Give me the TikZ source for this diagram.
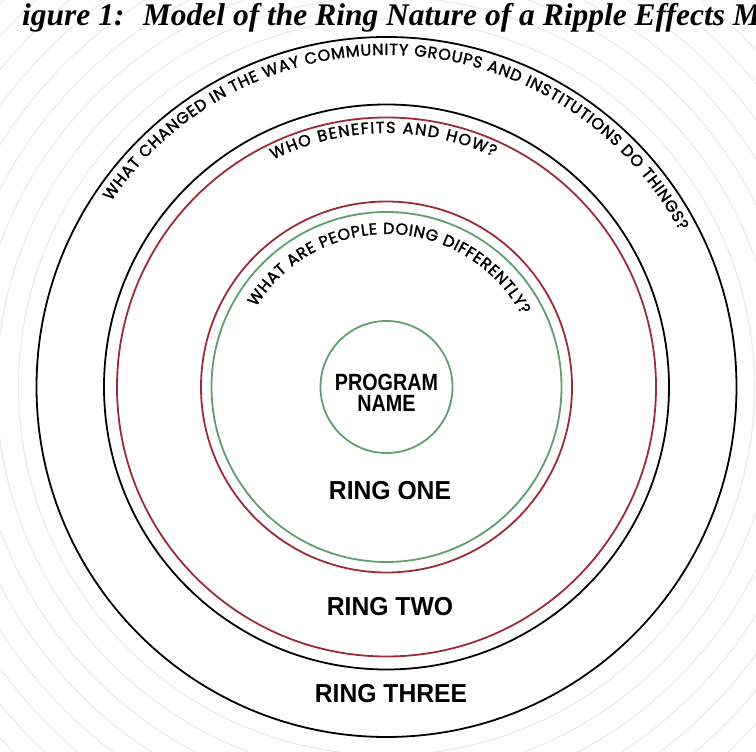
\documentclass[tikz,border=0pt]{standalone}
\usepackage{fontspec}
\usetikzlibrary{decorations.text}
\newfontfamily\ringfont{Poppins}[FakeBold=1.8]
\newfontfamily\labelfont{Liberation Sans}[FakeStretch=0.84]
\newfontfamily\ringlabelfont{Liberation Sans}[FakeStretch=0.95]
\newfontfamily\titlefont{Liberation Serif}
\definecolor{ringred}{HTML}{9B2B38}
\definecolor{ringgreen}{HTML}{5E9F6B}
\definecolor{ripple}{HTML}{EAEAEA}

\begin{document}
\begin{tikzpicture}[x=1pt,y=1pt,
	ring/.style={line width=1.8pt},
	ringlabel/.style={font=\ringlabelfont\bfseries\fontsize{26}{26}\selectfont, inner sep=0pt},
	curved/.style={decorate, decoration={text along path, text align={fit to path},
		text={|\ringfont\fontsize{16}{16}\selectfont|#1}}}]
	\useasboundingbox (0,0) rectangle (756,752);
	\clip (0,0) rectangle (756,752);
	\coordinate (c) at (386.5,365);
	
	\foreach \r in {368,390,...,544} \draw[ripple, line width=1.1pt] (c) circle (\r pt);
	
	\draw[ring] (c) circle (350pt);
	\draw[ring] (c) circle (282.5pt);
	\draw[ring, ringred] (c) circle (269.5pt);
	\draw[ring, ringred] (c) circle (185.5pt);
	\draw[ring, ringgreen] (c) circle (175pt);
	\draw[ring, ringgreen] (c) circle (66pt);
	
	\path[curved={WHAT CHANGED IN THE WAY COMMUNITY GROUPS AND INSTITUTIONS DO THINGS?}]
		(c) ++(146:332pt) arc[start angle=146, end angle=28, radius=332pt];
	\path[curved={WHO BENEFITS AND HOW?}]
		(c) ++(116.5:254pt) arc[start angle=116.5, end angle=65, radius=254pt];
	\path[curved={WHAT ARE PEOPLE DOING DIFFERENTLY?}]
		(c) ++(148.5:153pt) arc[start angle=148.5, end angle=28, radius=153pt];
	
	\node[ringlabel, align=center, font=\labelfont\bfseries\fontsize{23.5}{21}\selectfont] (prog) at (386.5,359) {PROGRAM\\NAME};
	\node[ringlabel] (one) at (390,261) {RING ONE};
	\node[ringlabel] (two) at (390,145) {RING TWO};
	\node[ringlabel] (three) at (391,58) {RING THREE};
	
	\node[anchor=base west, inner sep=0pt, font=\titlefont\bfseries\itshape\fontsize{31.5}{32}\selectfont] (title) at (22,726) {igure 1:~ Model of the Ring Nature of a Ripple Effects M};
\end{tikzpicture}
\end{document}
